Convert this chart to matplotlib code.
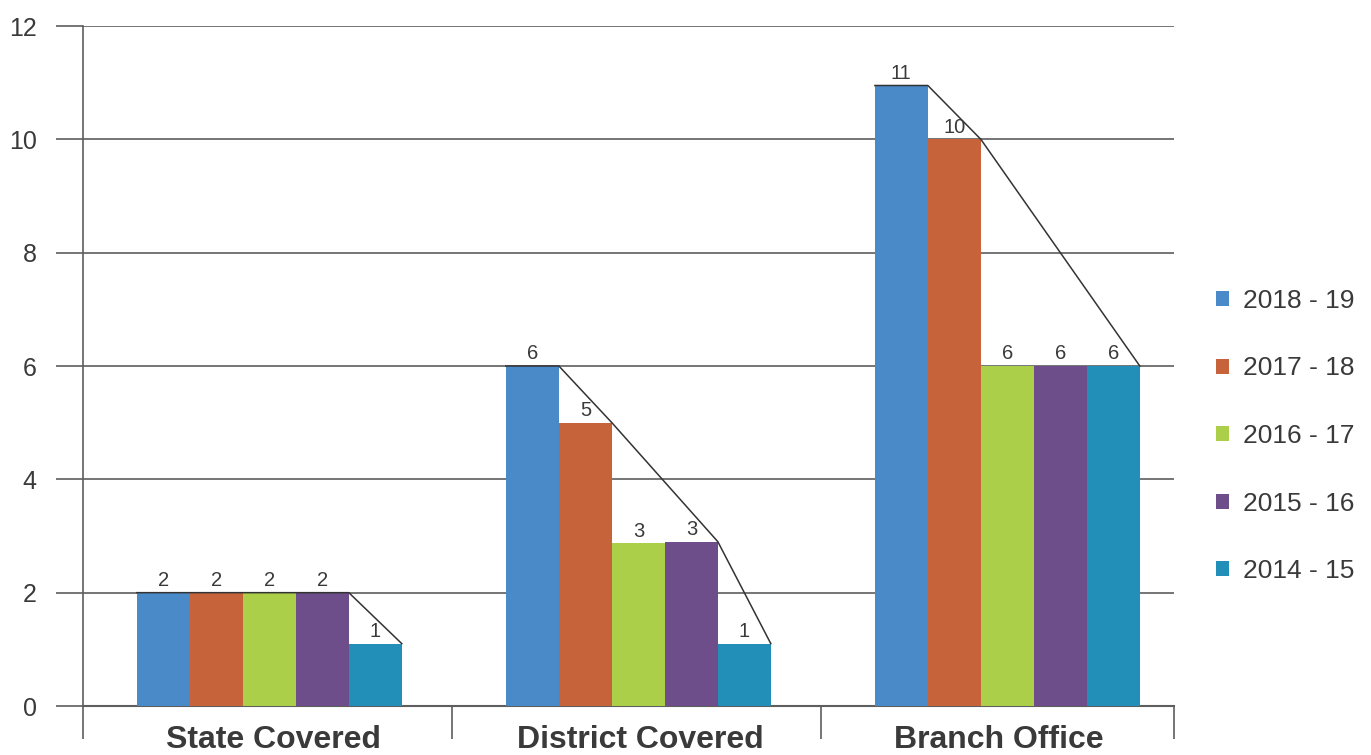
import matplotlib
matplotlib.use("Agg")
import matplotlib.pyplot as plt
import numpy as np

plt.rcParams['font.family'] = ['Liberation Sans', 'DejaVu Sans']

categories = ["State Covered", "District Covered", "Branch Office"]
series_names = ["2018 - 19", "2017 - 18", "2016 - 17", "2015 - 16", "2014 - 15"]
values_2018_19 = [2, 6, 10.95]
values_2017_18 = [2, 5, 10]
values_2016_17 = [2, 2.87, 6]
values_2015_16 = [2, 2.9, 6]
values_2014_15 = [1.1, 1.1, 6]
y_ticks = [0, 2, 4, 6, 8, 10, 12]

series_values = [values_2018_19, values_2017_18, values_2016_17,
                 values_2015_16, values_2014_15]
colors = ["#4A8AC8", "#C7633A", "#ABCF48", "#6E4E8A", "#228FB8"]

W, H = 1371, 755
fig = plt.figure(figsize=(W / 100, H / 100), dpi=100)
ax = fig.add_axes([83 / W, (H - 706) / H, (1174 - 83) / W, (706 - 26) / H])

grid_col = "#5e5e5e"
text_col = "#3a3a3a"

bar_w = 0.1436
group_shift = 0.005
x = np.arange(len(categories))
offsets = (np.arange(len(series_names)) - 2) * bar_w + group_shift

for name, vals, col, off in zip(series_names, series_values, colors, offsets):
    bars = ax.bar(x + off, vals, width=bar_w, color=col, label=name,
                  zorder=3, linewidth=0)
    for b, v in zip(bars, vals):
        ax.annotate(f"{v:.0f}", (b.get_x() + b.get_width() / 2, v),
                    xytext=(0, 2), textcoords="offset points",
                    ha="center", va="bottom", fontsize=14.5, color=text_col,
                    zorder=5)


def upper_hull(pts):
    hull = []
    for p in pts:
        while len(hull) >= 2:
            (x1, y1), (x2, y2) = hull[-2], hull[-1]
            cross = (x2 - x1) * (p[1] - y1) - (y2 - y1) * (p[0] - x1)
            if cross >= 0:
                hull.pop()
            else:
                break
        hull.append(p)
    return hull


# outline joining the tops of each group's bars
for i in range(len(categories)):
    group_vals = [vals[i] for vals in series_values]
    pts = [(x[i] + offsets[0] - bar_w / 2, group_vals[0])]
    pts += [(x[i] + off + bar_w / 2, v) for off, v in zip(offsets, group_vals)]
    hull = upper_hull(pts)
    hx, hy = zip(*hull)
    ax.plot(hx, hy, color="#333333", lw=1.1, zorder=4)

ax.set_ylim(0, 12)
ax.set_xlim(-0.5, 1.5 + 353 / 369)
ax.set_yticks(y_ticks)
ax.set_yticklabels([str(t) for t in y_ticks])
ax.yaxis.grid(True, color=grid_col, lw=1.2, zorder=1)
ax.tick_params(axis="y", length=19.4, width=1.2, color=grid_col, pad=14,
               labelsize=18, labelcolor=text_col)

sep = [-0.5, 0.5, 1.5, 1.5 + 353 / 369]
ax.set_xticks(sep)
ax.set_xticklabels([])
ax.tick_params(axis="x", length=24, width=1.2, color=grid_col)

for s in ["top", "right"]:
    ax.spines[s].set_visible(False)
ax.spines["left"].set_color(grid_col)
ax.spines["left"].set_linewidth(1.2)
ax.spines["bottom"].set_color(grid_col)
ax.spines["bottom"].set_linewidth(1.5)

label_px = [273, 640, 999]
for lab, px in zip(categories, label_px):
    fig.text(px / W, 0.5 / H, lab, ha="center", va="bottom", fontsize=23,
             fontweight="bold", color=text_col)

leg = ax.legend(loc="center left", bbox_to_anchor=(1205 / W, (H - 436) / H),
                bbox_transform=fig.transFigure, frameon=False, fontsize=19,
                handlelength=0.5, handleheight=0.5, handletextpad=0.55,
                labelspacing=1.65, borderaxespad=0, labelcolor=text_col)

fig.savefig("out.png", dpi=100)
